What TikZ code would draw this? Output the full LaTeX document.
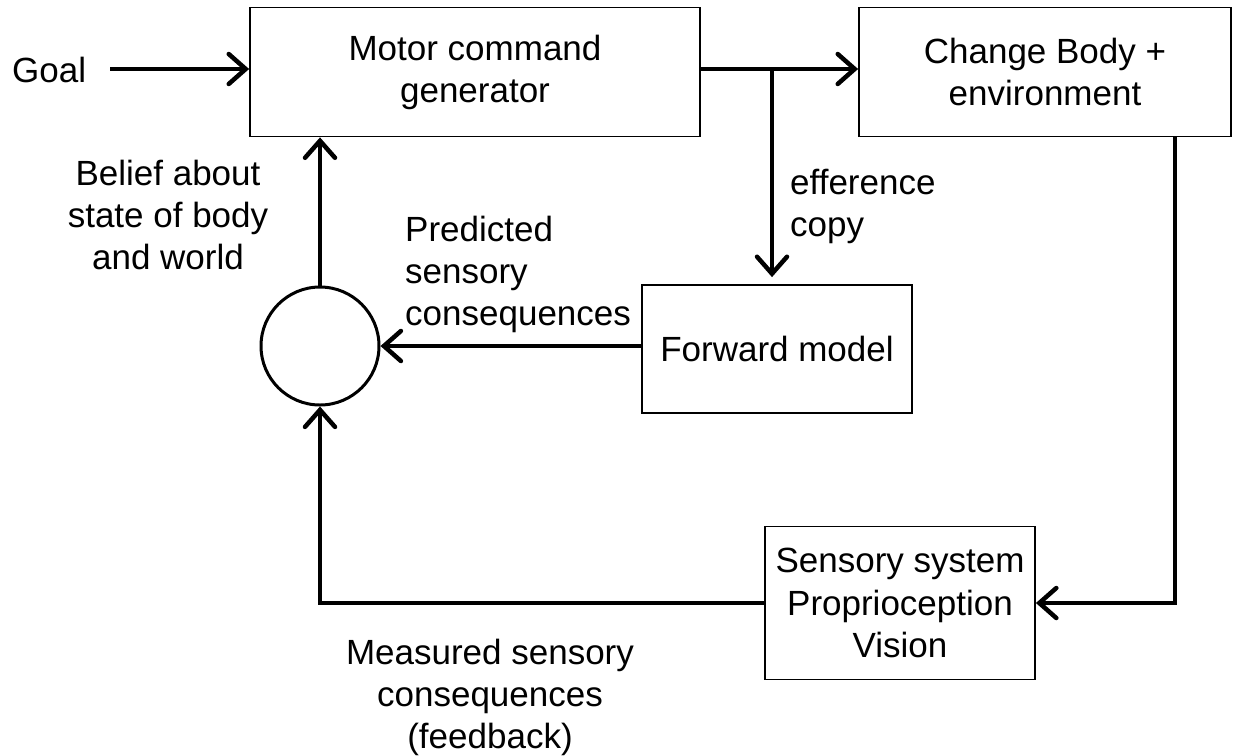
\documentclass[tikz,border=0pt]{standalone}
\usepackage{fontspec}
\setmainfont{Liberation Sans}
\usetikzlibrary{arrows.meta}
\begin{document}
\begin{tikzpicture}[x=1pt,y=-1pt,
  every node/.style={font=\fontsize{35}{42}\selectfont, inner sep=0pt},
  box/.style={draw, line width=1.8pt, align=center},
  lbl/.style={align=center},
  conn/.style={line width=4.5pt},
  arr/.style={conn, -{Straight Barb[length=17pt,width=30pt,line cap=round]}}
]
\useasboundingbox (0,0) rectangle (1233,755);
\fill[white] (0,0) rectangle (1233,755);

\node[box, minimum width=450pt, minimum height=129pt] (motor) at (475,72) {Motor command\\generator};
\node[box, minimum width=372pt, minimum height=129pt] (change) at (1045,72) {Change Body +\\environment};
\node[box, minimum width=270pt, minimum height=128pt] (fwd) at (777,349) {Forward model};
\node[box, minimum width=270pt, minimum height=153pt] (sens) at (900,603) {Sensory system\\[1pt]Proprioception\\Vision};
\node[draw, circle, line width=3pt, minimum size=118pt] (circ) at (320,346) {};

\node[anchor=west] (goal) at (12,70) {Goal};
\node[lbl] (belief) at (168,215) {Belief about\\state of body\\and world};
\node[lbl, align=left, anchor=west] (pred) at (405,274) {Predicted\\sensory\\consequences};
\node[lbl, align=left, anchor=west] (eff) at (790,206) {efference\\copy};
\node[lbl] (meas) at (490,697) {Measured sensory\\consequences\\(feedback)};

\coordinate (split) at (772,69);
\coordinate (rt) at (1175,603);

\draw[arr] ([xshift=24pt]goal.east |- split) -- (split -| motor.west);
\draw[arr] (split -| motor.east) -- (split -| change.west);
\draw[arr, shorten >=7pt] (split) -- (split |- fwd.north);
\draw[arr] (fwd.west |- circ.east) -- (circ.east);
\draw[arr] (circ.north) -- (circ.north |- motor.south);
\draw[arr] (change.south -| rt) -- (rt) -- (sens.east);
\draw[arr] (sens.west) -| (circ.south);
\end{tikzpicture}
\end{document}
